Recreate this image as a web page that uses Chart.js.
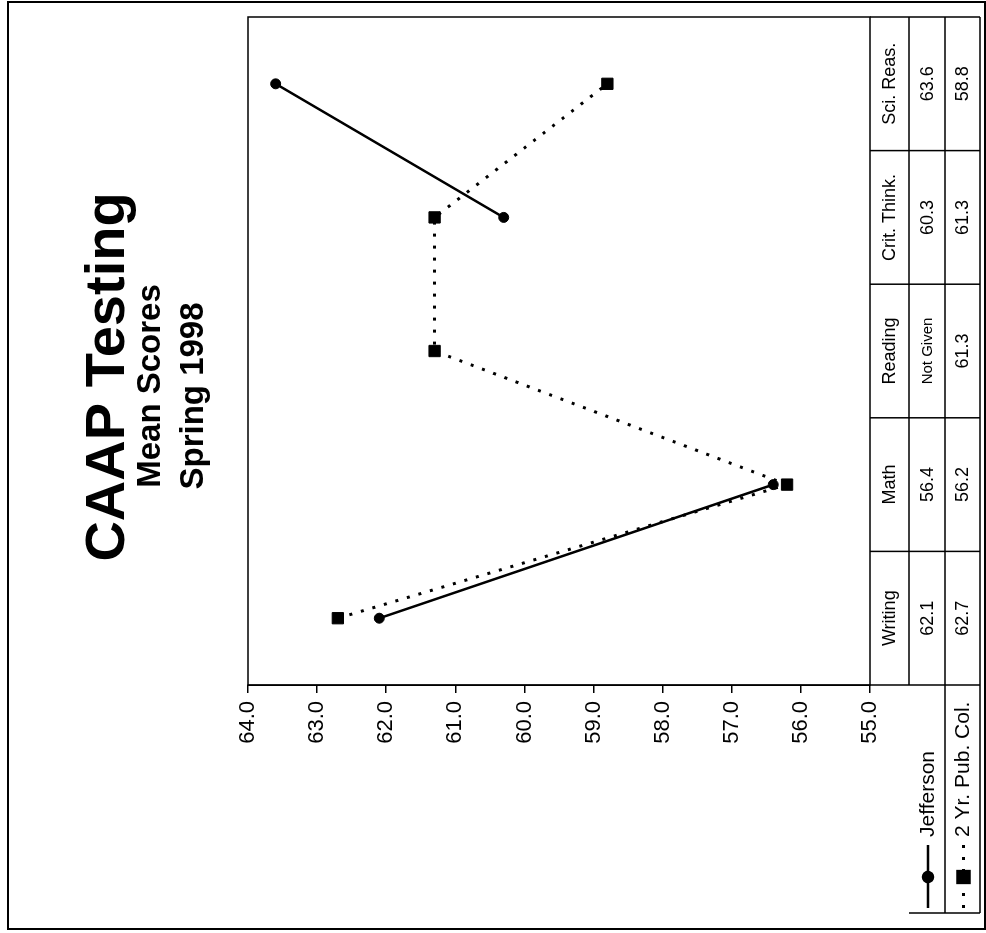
<!DOCTYPE html>
<html lang="en">
<head>
    <meta charset="UTF-8">
    <title>CAAP Testing - Mean Scores Spring 1998</title>
    <script src="https://cdn.jsdelivr.net/npm/chart.js"></script>
    <style>
        body {
            margin: 0;
            background-color: #fff;
            overflow: hidden;
        }
        /* the page is drawn as a landscape sheet and turned a quarter turn */
        #sheet {
            position: absolute;
            left: 0;
            top: 0;
            width: 933px;
            height: 986px;
            transform-origin: 0 0;
            transform: translateY(933px) rotate(-90deg);
        }
    </style>
</head>
<body>
    <div id="sheet">
        <canvas id="caap-chart" width="933" height="986"></canvas>
    </div>

    <script>
        // Chart data
        const categories = ["Writing", "Math", "Reading", "Crit. Think.", "Sci. Reas."];
        const jeffersonScores = [62.1, 56.4, null, 60.3, 63.6];
        const twoYearScores = [62.7, 56.2, 61.3, 61.3, 58.8];
        const seriesNames = ["Jefferson", "2 Yr. Pub. Col."];
        const axisMin = 55;
        const axisMax = 64;
        const missingText = "Not Given";
        const titleText = "CAAP Testing";
        const subtitleLines = ["Mean Scores", "Spring 1998"];

        const FONT = "'Liberation Sans', Arial, Helvetica, sans-serif";

        // Frame, titles, plot box and the data table underneath
        const sheetPlugin = {
            id: "sheet",
            afterDraw(chart) {
                const { ctx, chartArea: a, scales: { x } } = chart;
                ctx.save();
                ctx.strokeStyle = "#000";
                ctx.fillStyle = "#000";

                // outer frame
                ctx.lineWidth = 2;
                ctx.strokeRect(4, 8, 927, 977);

                // titles
                ctx.textAlign = "center";
                ctx.textBaseline = "alphabetic";
                ctx.font = "bold 56px " + FONT;
                ctx.fillText(titleText, 556, 124);
                ctx.font = "bold 33px " + FONT;
                ctx.fillText(subtitleLines[0], 547, 160);
                ctx.fillText(subtitleLines[1], 537, 203);

                // plot box
                ctx.lineWidth = 1.5;
                ctx.strokeRect(a.left, a.top, a.right - a.left, a.bottom - a.top);

                // table rows under the plot
                const rowEdges = [a.bottom, a.bottom + 39, a.bottom + 75, a.bottom + 110];
                const band = (a.right - a.left) / categories.length;
                const legendLeft = 20;

                ctx.beginPath();
                for (let r = 1; r < rowEdges.length; r++) {
                    const from = r === 1 ? a.left : legendLeft;
                    ctx.moveTo(r === 1 ? a.left : legendLeft, rowEdges[r]);
                    ctx.lineTo(a.right, rowEdges[r]);
                }
                for (let i = 0; i <= categories.length; i++) {
                    const px = a.left + i * band;
                    ctx.moveTo(px, rowEdges[0]);
                    ctx.lineTo(px, rowEdges[3]);
                }
                ctx.moveTo(legendLeft, rowEdges[1]);
                ctx.lineTo(legendLeft, rowEdges[3]);
                ctx.stroke();

                ctx.textBaseline = "middle";
                const rowMid = r => (rowEdges[r] + rowEdges[r + 1]) / 2 + 1;
                categories.forEach((cat, i) => {
                    const cx = x.getPixelForValue(i);
                    ctx.font = "18px " + FONT;
                    ctx.fillText(cat, cx, rowMid(0));
                    [jeffersonScores, twoYearScores].forEach((series, s) => {
                        const v = series[i];
                        if (v === null) {
                            ctx.font = "15px " + FONT;
                            ctx.fillText(missingText, cx, rowMid(s + 1));
                        } else {
                            ctx.font = "18px " + FONT;
                            ctx.fillText(v.toFixed(1), cx, rowMid(s + 1));
                        }
                    });
                });

                // legend cells
                chart.data.datasets.forEach((ds, s) => {
                    const cy = rowMid(s + 1);
                    ctx.lineWidth = ds.borderWidth;
                    ctx.setLineDash(ds.borderDash || []);
                    ctx.beginPath();
                    ctx.moveTo(25, cy);
                    ctx.lineTo(88, cy);
                    ctx.stroke();
                    ctx.setLineDash([]);
                    Chart.helpers.drawPoint(ctx, {
                        pointStyle: ds.pointStyle,
                        radius: ds.pointRadius,
                        borderWidth: 1,
                        rotation: 0
                    }, 56, cy);
                    ctx.fill();
                    ctx.textAlign = "left";
                    ctx.font = "21px " + FONT;
                    ctx.fillText(ds.label, 96, cy);
                });

                ctx.restore();
            }
        };

        const ctx = document.getElementById("caap-chart").getContext("2d");
        new Chart(ctx, {
            type: "line",
            data: {
                labels: categories,
                datasets: [{
                    label: seriesNames[0],
                    data: jeffersonScores,
                    borderColor: "#000",
                    backgroundColor: "#000",
                    borderWidth: 2.5,
                    pointStyle: "circle",
                    pointRadius: 5,
                    pointBorderWidth: 1,
                    spanGaps: false,
                    tension: 0
                }, {
                    label: seriesNames[1],
                    data: twoYearScores,
                    borderColor: "#000",
                    backgroundColor: "#000",
                    borderWidth: 3,
                    borderDash: [3, 9],
                    pointStyle: "rect",
                    pointRadius: 8,
                    pointBorderWidth: 1,
                    tension: 0
                }]
            },
            options: {
                responsive: false,
                animation: false,
                layout: {
                    padding: { left: 0, top: 248, right: 17, bottom: 116 }
                },
                plugins: {
                    legend: { display: false },
                    tooltip: { enabled: false }
                },
                scales: {
                    x: {
                        display: false,
                        offset: true
                    },
                    y: {
                        min: axisMin,
                        max: axisMax,
                        afterFit(scale) { scale.width = 248; },
                        ticks: {
                            stepSize: 1,
                            color: "#000",
                            padding: 8,
                            font: { family: FONT, size: 22 },
                            callback: v => Number(v).toFixed(1)
                        },
                        grid: {
                            drawOnChartArea: false,
                            drawTicks: true,
                            tickLength: 8,
                            color: "#000",
                            lineWidth: 1.5
                        },
                        border: { color: "#000", width: 1.5 }
                    }
                }
            },
            plugins: [sheetPlugin]
        });
    </script>
</body>
</html>
